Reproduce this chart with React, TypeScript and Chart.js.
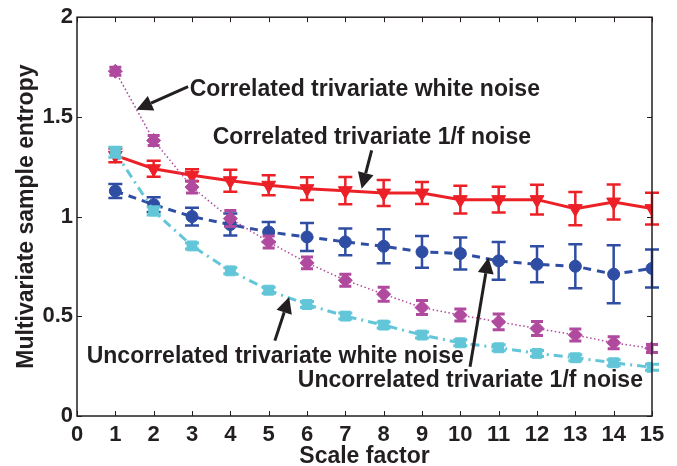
import React, { useEffect, useRef } from "react";
import { Chart, registerables } from "chart.js";

Chart.register(...registerables);

const scaleFactors = [1, 2, 3, 4, 5, 6, 7, 8, 9, 10, 11, 12, 13, 14, 15];

const corr1f = [1.307, 1.24, 1.207, 1.18, 1.157, 1.14, 1.13, 1.118, 1.118, 1.085, 1.085, 1.085, 1.04, 1.073, 1.04];
const corr1fErr = [0.035, 0.04, 0.03, 0.055, 0.05, 0.057, 0.068, 0.065, 0.055, 0.07, 0.065, 0.075, 0.083, 0.088, 0.08];

const uncorr1f = [1.128, 1.06, 1.0, 0.96, 0.923, 0.898, 0.873, 0.851, 0.823, 0.815, 0.778, 0.761, 0.751, 0.711, 0.74];
const uncorr1fErr = [0.035, 0.037, 0.045, 0.055, 0.05, 0.07, 0.067, 0.085, 0.08, 0.08, 0.095, 0.09, 0.11, 0.145, 0.095];

const corrWhite = [1.729, 1.382, 1.148, 0.99, 0.873, 0.768, 0.681, 0.611, 0.544, 0.506, 0.472, 0.439, 0.406, 0.367, 0.339];
const corrWhiteErr = [0.02, 0.025, 0.03, 0.04, 0.03, 0.03, 0.03, 0.035, 0.035, 0.03, 0.04, 0.035, 0.03, 0.03, 0.02];

const uncorrWhite = [1.323, 1.028, 0.853, 0.728, 0.631, 0.559, 0.501, 0.456, 0.406, 0.367, 0.342, 0.314, 0.292, 0.267, 0.244];
const uncorrWhiteErr = [0.025, 0.02, 0.015, 0.015, 0.015, 0.015, 0.015, 0.015, 0.015, 0.015, 0.015, 0.015, 0.015, 0.015, 0.015];

const xTicks = [0, 1, 2, 3, 4, 5, 6, 7, 8, 9, 10, 11, 12, 13, 14, 15];
const yTicks = [0, 0.5, 1, 1.5, 2];

// annotation labels: text, left x, baseline y (data units)
const labelTexts = [
  "Correlated trivariate white noise",
  "Correlated trivariate 1/f noise",
  "Uncorrelated trivariate white noise",
  "Uncorrelated trivariate 1/f noise",
];
const labelX = [2.94, 3.54, 0.253, 5.76];
const labelY = [1.607, 1.362, 0.265, 0.147];

// arrows: tail -> tip (data units)
const arrowTailX = [2.898, 7.687, 5.162, 10.253];
const arrowTailY = [1.652, 1.332, 0.378, 0.247];
const arrowTipX = [1.551, 7.426, 5.535, 10.733];
const arrowTipY = [1.536, 1.14, 0.597, 0.795];

const RED = "#EC2027";
const BLUE = "#2E4DA3";
const MAGENTA = "#B04A9E";
const CYAN = "#62C6D8";
const INK = "#231F20";
const FONT = "'Liberation Sans', Arial, Helvetica, sans-serif";

const errorBarPlugin = {
  id: "errorBars",
  afterDatasetDraw(chart: any, args: any) {
    const ds = chart.data.datasets[args.index];
    const errs: number[] | undefined = ds.errors;
    if (!errs) return;
    const xs = chart.scales.x;
    const ys = chart.scales.y;
    const ctx = chart.ctx;
    ctx.save();
    ctx.strokeStyle = ds.borderColor;
    ctx.lineWidth = ds.errorWidth || 2.5;
    ctx.setLineDash([]);
    const cap = ds.capHalf || 6;
    ds.data.forEach((p: any, i: number) => {
      const px = xs.getPixelForValue(p.x);
      const top = ys.getPixelForValue(p.y + errs[i]);
      const bot = ys.getPixelForValue(p.y - errs[i]);
      ctx.beginPath();
      ctx.moveTo(px, top);
      ctx.lineTo(px, bot);
      ctx.moveTo(px - cap, top);
      ctx.lineTo(px + cap, top);
      ctx.moveTo(px - cap, bot);
      ctx.lineTo(px + cap, bot);
      ctx.stroke();
    });
    ctx.restore();
  },
};

const boxPlugin = {
  id: "boxTicks",
  afterDraw(chart: any) {
    const { ctx, chartArea } = chart;
    const xs = chart.scales.x;
    const ys = chart.scales.y;
    const { left, right, top, bottom } = chartArea;
    ctx.save();
    ctx.strokeStyle = INK;
    ctx.lineWidth = 1.5;
    ctx.setLineDash([]);
    ctx.strokeRect(left, top, right - left, bottom - top);
    const tl = 5;
    ctx.lineWidth = 1;
    ctx.beginPath();
    xTicks.forEach((v) => {
      const px = Math.round(xs.getPixelForValue(v)) + 0.5;
      ctx.moveTo(px, bottom);
      ctx.lineTo(px, bottom - tl);
      ctx.moveTo(px, top);
      ctx.lineTo(px, top + tl);
    });
    yTicks.forEach((v) => {
      const py = Math.round(ys.getPixelForValue(v)) + 0.5;
      ctx.moveTo(left, py);
      ctx.lineTo(left + tl, py);
      ctx.moveTo(right, py);
      ctx.lineTo(right - tl, py);
    });
    ctx.stroke();
    ctx.restore();
  },
};

const annotationPlugin = {
  id: "annotations",
  afterDatasetsDraw(chart: any) {
    const { ctx } = chart;
    const xs = chart.scales.x;
    const ys = chart.scales.y;
    ctx.save();
    ctx.fillStyle = INK;
    ctx.font = `bold 23px ${FONT}`;
    ctx.textBaseline = "alphabetic";
    ctx.textAlign = "left";
    labelTexts.forEach((t, i) => {
      ctx.fillText(t, xs.getPixelForValue(labelX[i]), ys.getPixelForValue(labelY[i]));
    });
    // arrows
    ctx.strokeStyle = INK;
    ctx.lineWidth = 3;
    ctx.setLineDash([]);
    arrowTailX.forEach((_, i) => {
      const x0 = xs.getPixelForValue(arrowTailX[i]);
      const y0 = ys.getPixelForValue(arrowTailY[i]);
      const x1 = xs.getPixelForValue(arrowTipX[i]);
      const y1 = ys.getPixelForValue(arrowTipY[i]);
      const ang = Math.atan2(y1 - y0, x1 - x0);
      const hl = 16;
      const hw = 8;
      const bx = x1 - hl * Math.cos(ang);
      const by = y1 - hl * Math.sin(ang);
      ctx.beginPath();
      ctx.moveTo(x0, y0);
      ctx.lineTo(bx, by);
      ctx.stroke();
      ctx.beginPath();
      ctx.moveTo(x1, y1);
      ctx.lineTo(bx + hw * Math.sin(ang), by - hw * Math.cos(ang));
      ctx.lineTo(bx - hw * Math.sin(ang), by + hw * Math.cos(ang));
      ctx.closePath();
      ctx.fill();
    });
    ctx.restore();
  },
};

function pts(vals: number[]) {
  return scaleFactors.map((x, i) => ({ x, y: vals[i] }));
}

export default function App() {
  const ref = useRef<HTMLCanvasElement | null>(null);
  useEffect(() => {
    document.body.style.margin = "0";
    if (!ref.current) return;
    const chart = new Chart(ref.current, {
      type: "line",
      data: {
        datasets: [
          {
            label: "Uncorrelated trivariate white noise",
            data: pts(uncorrWhite),
            errors: uncorrWhiteErr,
            capHalf: 7,
            errorWidth: 3,
            borderColor: CYAN,
            backgroundColor: CYAN,
            borderWidth: 3,
            borderDash: [9, 5, 2, 5],
            pointStyle: "rect",
            pointRadius: 7,
            pointBorderWidth: 1,
            order: 1,
          } as any,
          {
            label: "Correlated trivariate white noise",
            data: pts(corrWhite),
            errors: corrWhiteErr,
            capHalf: 6,
            errorWidth: 3,
            borderColor: MAGENTA,
            backgroundColor: MAGENTA,
            borderWidth: 1.5,
            borderDash: [1.5, 2.5],
            pointStyle: "rectRot",
            pointRadius: 7,
            pointBorderWidth: 1,
            order: 2,
          } as any,
          {
            label: "Uncorrelated trivariate 1/f noise",
            data: pts(uncorr1f),
            errors: uncorr1fErr,
            capHalf: 7,
            errorWidth: 2.5,
            borderColor: BLUE,
            backgroundColor: BLUE,
            borderWidth: 3,
            borderDash: [8, 6],
            pointStyle: "circle",
            pointRadius: 6,
            pointBorderWidth: 1,
            order: 3,
          } as any,
          {
            label: "Correlated trivariate 1/f noise",
            data: pts(corr1f),
            errors: corr1fErr,
            capHalf: 7,
            errorWidth: 2.5,
            borderColor: RED,
            backgroundColor: RED,
            borderWidth: 3,
            pointStyle: "triangle",
            pointRotation: 180,
            pointRadius: 8,
            pointBorderWidth: 1,
            order: 4,
          } as any,
        ],
      },
      options: {
        animation: false,
        responsive: false,
        maintainAspectRatio: false,
        layout: { padding: { top: 17, right: 25, left: 0, bottom: 0 } },
        plugins: {
          legend: { display: false },
          tooltip: { enabled: false },
        },
        scales: {
          x: {
            type: "linear",
            min: 0,
            max: 15,
            afterFit: (s: any) => {
              s.height = 50;
            },
            afterBuildTicks: (s: any) => {
              s.ticks = xTicks.map((v) => ({ value: v }));
            },
            grid: { display: false, drawTicks: false },
            border: { display: false },
            ticks: {
              color: INK,
              padding: 6,
              maxRotation: 0,
              autoSkip: false,
              callback: (v: any) => String(v),
              font: { family: FONT, size: 22, weight: "bold" },
            },
            title: {
              display: true,
              text: "Scale factor",
              color: INK,
              padding: { top: 0, bottom: -2 },
              font: { family: FONT, size: 23, weight: "bold", lineHeight: 1 },
            },
          },
          y: {
            type: "linear",
            min: 0,
            max: 2,
            afterFit: (s: any) => {
              s.width = 77;
            },
            afterBuildTicks: (s: any) => {
              s.ticks = yTicks.map((v) => ({ value: v }));
            },
            grid: { display: false, drawTicks: false },
            border: { display: false },
            ticks: {
              color: INK,
              padding: 4,
              autoSkip: false,
              callback: (v: any) => String(v),
              font: { family: FONT, size: 22, weight: "bold" },
            },
            title: {
              display: true,
              text: "Multivariate sample entropy",
              color: INK,
              padding: { top: 15, bottom: 0 },
              font: { family: FONT, size: 23, weight: "bold", lineHeight: 1 },
            },
          },
        },
      },
      plugins: [errorBarPlugin, annotationPlugin, boxPlugin],
    } as any);
    return () => chart.destroy();
  }, []);
  return (
    <div style={{ width: 677, height: 466 }}>
      <canvas ref={ref} width={677} height={466} style={{ display: "block" }} />
    </div>
  );
}
